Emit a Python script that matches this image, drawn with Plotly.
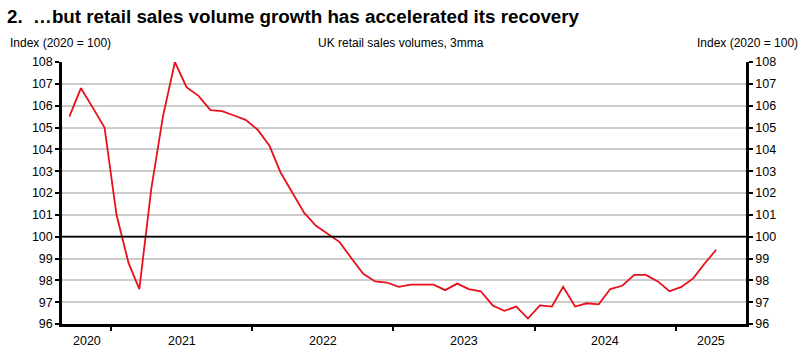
import pandas as pd
import plotly.graph_objects as go

# ---- data ----
start_month = "2020-09"
values = [
    105.5, 106.8, 105.9, 105.0,                       # Sep-Dec 2020
    101.0, 98.8, 97.6, 102.2, 105.5, 108.0,           # Jan-Jun 2021
    106.85, 106.45, 105.8, 105.75, 105.55, 105.35,    # Jul-Dec 2021
    104.9, 104.15, 102.95, 102.0, 101.1, 100.5,       # Jan-Jun 2022
    100.15, 99.75, 99.0, 98.3, 97.95, 97.9,           # Jul-Dec 2022
    97.7, 97.8, 97.8, 97.8, 97.55, 97.85,             # Jan-Jun 2023
    97.6, 97.5, 96.85, 96.6, 96.8, 96.25,             # Jul-Dec 2023
    96.85, 96.8, 97.7, 96.8, 96.95, 96.9,             # Jan-Jun 2024
    97.6, 97.75, 98.25, 98.25, 97.95, 97.5,           # Jul-Dec 2024
    97.7, 98.1, 98.75, 99.4,                          # Jan-Apr 2025
]
year_labels = ["2020", "2021", "2022", "2023", "2024", "2025"]
y_ticks = list(range(96, 109))
x_range = ["2020-08-27", "2025-07-01"]
title = "2.  \u2026but retail sales volume growth has accelerated its recovery"
axis_title = "Index (2020 = 100)"
chart_sub = "UK retail sales volumes, 3mma"

dates = pd.date_range(start_month + "-01", periods=len(values), freq="MS") + pd.Timedelta(days=14)

FONT = "Liberation Sans, Arial, sans-serif"
RED = "#e8101a"
W, H = 808, 352
ML, MR, MT, MB = 62, 62, 62, 28
PW, PH = W - ML - MR, H - MT - MB


def px_x(px):
    return (px - ML) / PW


def px_y(py):
    return (H - MB - py) / PH


fig = go.Figure()
fig.add_trace(go.Scatter(x=dates, y=values, mode="lines",
                         line=dict(color=RED, width=1.8), showlegend=False,
                         hoverinfo="skip"))
fig.add_trace(go.Scatter(x=dates, y=values, mode="lines", yaxis="y2",
                         line=dict(color="rgba(0,0,0,0)", width=0), showlegend=False,
                         hoverinfo="skip"))

year_ticks = [f"{y}-01-01" for y in range(2021, 2026)]

fig.update_layout(
    width=W, height=H,
    margin=dict(l=ML, r=MR, t=MT, b=MB),
    paper_bgcolor="white", plot_bgcolor="white",
    font=dict(family=FONT, size=12, color="black"),
    title=dict(text=f"<b>{title}</b>", xref="container", yref="container",
               x=7 / W, y=1 - 16 / H, xanchor="left", yanchor="middle",
               font=dict(size=18.8, color="black")),
    xaxis=dict(
        type="date", range=x_range, tickvals=year_ticks, showticklabels=False,
        ticks="outside", ticklen=4, tickwidth=2, tickcolor="black",
        showline=True, linecolor="black", linewidth=2.5, showgrid=False,
        zeroline=False, fixedrange=True,
    ),
    yaxis=dict(
        range=[96, 108], tickvals=y_ticks, ticks="outside", ticklen=4,
        tickwidth=1.5, tickcolor="black", showline=True, linecolor="black",
        linewidth=2.5, showgrid=True, gridcolor="#cccccc", gridwidth=1.5,
        zeroline=False, tickfont=dict(size=12.5),
    ),
    yaxis2=dict(
        range=[96, 108], tickvals=y_ticks, overlaying="y", side="right",
        ticks="outside", ticklen=4, tickwidth=1.5, tickcolor="black",
        showline=True, linecolor="black", linewidth=2.5, showgrid=False,
        zeroline=False, tickfont=dict(size=12.5),
    ),
)

fig.add_shape(type="line", xref="paper", x0=0, x1=1, yref="y", y0=100, y1=100,
              line=dict(color="black", width=1.8))

lo = pd.Timestamp(x_range[0]); hi = pd.Timestamp(x_range[1])
for lab in year_labels:
    a = max(pd.Timestamp(f"{lab}-01-01"), lo)
    b = min(pd.Timestamp(f"{int(lab)+1}-01-01"), hi)
    mid = a + (b - a) / 2
    fig.add_annotation(x=mid, y=-0.03, xref="x", yref="paper", text=lab,
                       showarrow=False, yanchor="top", font=dict(size=12.5))

fig.add_annotation(x=px_x(8), y=px_y(43), xref="paper", yref="paper", text=axis_title,
                   showarrow=False, xanchor="left", yanchor="middle")
fig.add_annotation(x=px_x(800), y=px_y(43), xref="paper", yref="paper", text=axis_title,
                   showarrow=False, xanchor="right", yanchor="middle")
fig.add_annotation(x=px_x(401), y=px_y(43), xref="paper", yref="paper", text=chart_sub,
                   showarrow=False, xanchor="center", yanchor="middle")

fig.write_html("out.html")
